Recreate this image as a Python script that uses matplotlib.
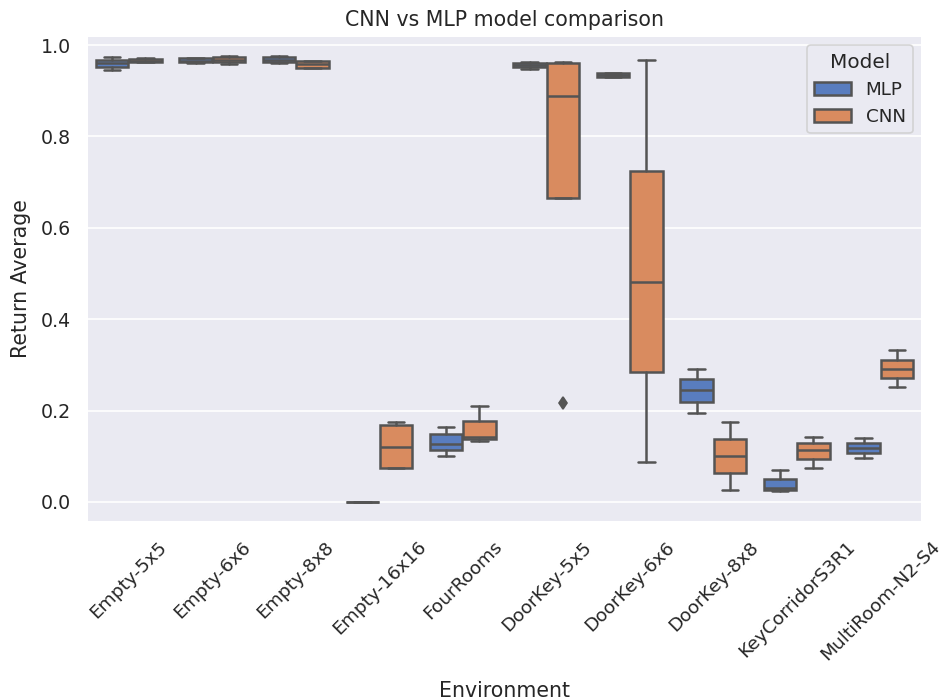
import matplotlib
matplotlib.use("Agg")
import matplotlib.pyplot as plt
import seaborn as sns
from matplotlib.patches import Patch
import colorsys

sns.set_theme(style="darkgrid", context="notebook")

environments = ["Empty-5x5", "Empty-6x6", "Empty-8x8", "Empty-16x16", "FourRooms",
                "DoorKey-5x5", "DoorKey-6x6", "DoorKey-8x8", "KeyCorridorS3R1", "MultiRoom-N2-S4"]
models = ["MLP", "CNN"]

# box statistics per environment: whisker low, q1, median, q3, whisker high
mlp_whislo = [0.945, 0.961, 0.961, 0.000, 0.101, 0.947, 0.930, 0.194, 0.023, 0.097]
mlp_q1     = [0.953, 0.962, 0.962, 0.000, 0.114, 0.952, 0.931, 0.218, 0.026, 0.107]
mlp_med    = [0.960, 0.966, 0.968, 0.000, 0.127, 0.956, 0.934, 0.244, 0.030, 0.117]
mlp_q3     = [0.967, 0.971, 0.975, 0.000, 0.148, 0.961, 0.938, 0.268, 0.051, 0.128]
mlp_whishi = [0.974, 0.972, 0.976, 0.000, 0.165, 0.963, 0.940, 0.292, 0.069, 0.139]
mlp_fliers = [[], [], [], [], [], [], [], [], [], []]

cnn_whislo = [0.962, 0.958, 0.951, 0.074, 0.134, 0.666, 0.088, 0.026, 0.074, 0.252]
cnn_q1     = [0.962, 0.963, 0.951, 0.075, 0.137, 0.666, 0.284, 0.063, 0.093, 0.271]
cnn_med    = [0.966, 0.968, 0.958, 0.121, 0.141, 0.888, 0.481, 0.101, 0.114, 0.290]
cnn_q3     = [0.970, 0.975, 0.965, 0.168, 0.177, 0.961, 0.724, 0.138, 0.128, 0.311]
cnn_whishi = [0.971, 0.976, 0.965, 0.176, 0.209, 0.962, 0.967, 0.174, 0.143, 0.333]
cnn_fliers = [[], [], [], [], [], [0.217], [], [], [], []]

base = sns.color_palette("muted")[:2]
colors = [sns.desaturate(c, 0.75) for c in base]
lum = min(colorsys.rgb_to_hls(*c)[1] for c in colors) * 0.6
gray = (lum, lum, lum)
lw = 1.5

fig = plt.figure(figsize=(942 / 120, 700 / 120), dpi=120)
ax = fig.add_axes([87 / 942, 1 - 522 / 700, (922 - 87) / 942, (522 - 36) / 700])

series = [
    (mlp_whislo, mlp_q1, mlp_med, mlp_q3, mlp_whishi, mlp_fliers),
    (cnn_whislo, cnn_q1, cnn_med, cnn_q3, cnn_whishi, cnn_fliers),
]
offsets = [-0.2, 0.2]
width = 0.4 * 0.98
for k, (wl, q1, med, q3, wh, fl) in enumerate(series):
    stats = []
    for i in range(len(environments)):
        stats.append(dict(whislo=wl[i], q1=q1[i], med=med[i], q3=q3[i], whishi=wh[i], fliers=fl[i]))
    positions = [i + offsets[k] for i in range(len(environments))]
    ax.bxp(stats, positions=positions, widths=width, patch_artist=True, manage_ticks=False,
           boxprops=dict(facecolor=colors[k], edgecolor=gray, linewidth=lw),
           medianprops=dict(color=gray, linewidth=lw),
           whiskerprops=dict(color=gray, linewidth=lw),
           capprops=dict(color=gray, linewidth=lw),
           flierprops=dict(marker="d", markerfacecolor=gray, markeredgecolor=gray,
                           markersize=5, linestyle="none"))

ax.set_xlim(-0.5, len(environments) - 0.5)
ax.set_ylim(-0.044, 1.020)
ax.set_xticks(range(len(environments)))
ax.set_xticklabels(environments, rotation=45, fontsize=11.1)
ax.xaxis.grid(False)
ax.set_yticks([0.0, 0.2, 0.4, 0.6, 0.8, 1.0])
ax.tick_params(axis="y", labelsize=11.4)
ax.set_xlabel("Environment", fontsize=12.3, labelpad=10)
ax.set_ylabel("Return Average", fontsize=12.3, labelpad=6)
ax.set_title("CNN vs MLP model comparison", fontsize=12.3)

handles = [Patch(facecolor=colors[k], edgecolor=gray, linewidth=lw, label=models[k]) for k in range(2)]
ax.legend(handles=handles, title="Model", loc="upper right")

fig.savefig("out.png", dpi=120)
